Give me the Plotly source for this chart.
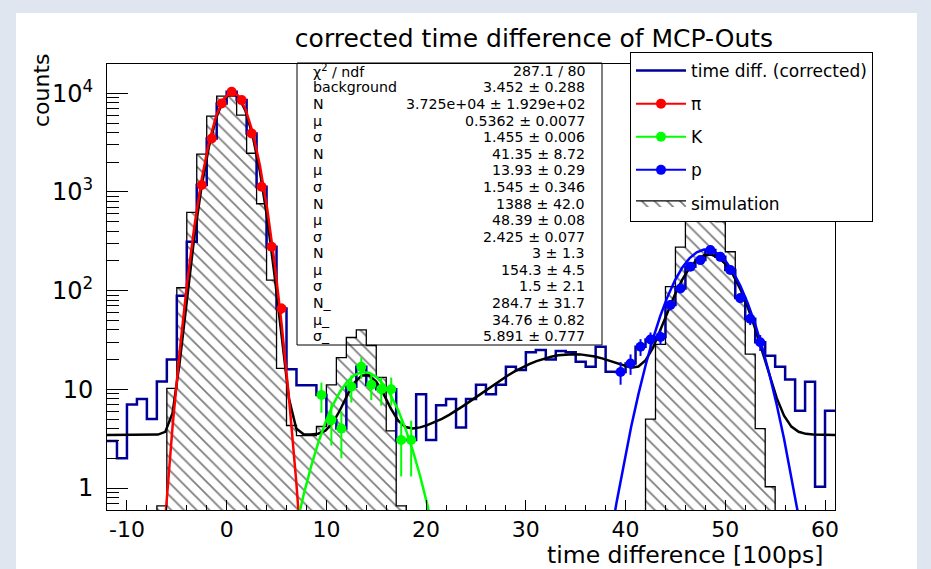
import numpy as np
import plotly.graph_objects as go

# ---------------- binning (axis structure) ----------------
x_min, x_max = -12, 61
bin_edges = np.arange(x_min, x_max + 1, 1.0)          # 74 edges -> 73 bins of width 1

# ---------------- data: measured histogram (time diff. corrected) ----------------
counts = [3.0, 2.0, 7.0, 8.0, 5.0, 12, 20, 89, 313, 1175, 3490, 7890,
          10350, 8530, 3925, 1130, 279, 66, 16, 11, 11, 8.75, 4.9, 4.0,
          10.6, 16.9, 11.1, 10.0, 10.0, 3.06, 3.06, 8.9, 3.06, 6.9, 8.0, 4.1,
          8.0, 11.1, 8.9, 11.1, 16.9, 15.7, 23.7, 25, 20.1, 24.5, 23.7, 19,
          16.9, 27, 15.1, 15, 18.3, 27, 32, 34, 71.5, 105, 175, 204,
          258, 220, 162, 84, 52, 30, 21.9, 16.9, 12.6, 6.07, 11.9, 1.03, 6.07]

# ---------------- data: simulation histogram ----------------
sim_counts = [0, 0, 0, 0, 0, 0.66, 10.2, 107, 621, 2420, 5870, 9370,
              9370, 6010, 2470, 760, 128, 16.3, 4.3, 3.4, 3.4, 4.2, 11.1, 21,
              33.5, 40, 27.8, 13.2, 3.8, 0.66, 0, 0, 0, 0, 0, 0,
              0, 0, 0, 0, 0, 0, 0, 0, 0, 0, 0, 0,
              0, 0, 0, 0, 0, 0, 5.0, 28.5, 110, 276, 520, 708,
              708, 500, 248, 87, 22.7, 4.0, 1.03, 0, 0, 0, 0, 0, 0]

# ---------------- data: fitted points ----------------
pi_x = [-2.5, -1.5, -0.5, 0.5, 1.5, 2.5, 3.5, 4.5, 5.5]
pi_y = [1175, 3490, 7890, 10350, 8530, 3925, 1130, 279, 66]
pi_err = [34, 59, 89, 102, 92, 63, 34, 17, 8.1]

k_x = [9.5, 10.5, 11.5, 12.5, 13.5, 14.5, 15.5, 16.5, 17.5, 18.5]
k_y = [8.75, 4.9, 4.0, 10.6, 16.9, 11.1, 10.0, 10.0, 3.06, 3.06]
k_err = [2.96, 2.21, 2.0, 3.26, 4.11, 3.33, 3.16, 3.16, 1.75, 1.75]

p_x = [39.5, 40.5, 41.5, 42.5, 43.5, 44.5, 45.5, 46.5, 47.5, 48.5, 49.5, 50.5, 51.5, 52.5, 53.5]
p_y = [15, 18.3, 27, 32, 34, 71.5, 105, 175, 204, 258, 220, 162, 84, 52, 30]
p_err = [3.87, 4.28, 5.2, 5.66, 5.83, 8.46, 10.2, 13.2, 14.3, 16.1, 14.8, 12.7, 9.17, 7.21, 5.48]

# ---------------- fit parameters ----------------
pi_fit = [10300, 0.54, 1.51]     # amplitude, mean, sigma
k_fit = [15.0, 13.8, 2.54]
p_fit = [262, 48.1, 2.62]
background = 3.452
tot_N = [37250, 41.35, 1388, 3, 284.7]
tot_mu = [0.5362, 13.93, 48.39, 154.3, 34.76]
tot_sigma = [1.455, 1.545, 2.425, 1.5, 5.891]

# ---------------- tick labels ----------------
x_tick_vals = [-10, 0, 10, 20, 30, 40, 50, 60]
x_tick_text = ["-10", "0", "10", "20", "30", "40", "50", "60"]
y_tick_vals = [1, 10, 100, 1000, 10000]
y_tick_text = ["1", "10", "10<sup>2</sup>", "10<sup>3</sup>", "10<sup>4</sup>"]

# ---------------- stats box text ----------------
stat_labels = ["χ<sup>2</sup> / ndf", "background", "N", "μ", "σ", "N", "μ", "σ",
               "N", "μ", "σ", "N", "μ", "σ", "N_", "μ_", "σ_"]
stat_values = ["287.1 / 80", "3.452 ± 0.288", "3.725e+04 ± 1.929e+02", "0.5362 ± 0.0077",
               "1.455 ± 0.006", "41.35 ± 8.72", "13.93 ± 0.29", "1.545 ± 0.346",
               "1388 ± 42.0", "48.39 ± 0.08", "2.425 ± 0.077", "3 ± 1.3", "154.3 ± 4.5",
               "1.5 ± 2.1", "284.7 ± 31.7", "34.76 ± 0.82", "5.891 ± 0.777"]

FLOOR = 1e-3
FONT = "DejaVu Sans"

def step_xy(values):
    v = [val if val > 0 else FLOOR for val in values]
    return list(bin_edges), v + [v[-1]]

fx = np.linspace(x_min, x_max, 101)

def gaus(x, a, m, s):
    return np.maximum(a * np.exp(-0.5 * ((x - m) / s) ** 2), 1e-2)

total = np.full_like(fx, background)
for N, m, s in zip(tot_N, tot_mu, tot_sigma):
    total = total + N / (np.sqrt(2 * np.pi) * s) * np.exp(-0.5 * ((fx - m) / s) ** 2)

fig = go.Figure()

# simulation (hatched)
sx, sy = step_xy(sim_counts)
fig.add_trace(go.Scatter(
    x=sx + [x_max, x_min], y=sy + [FLOOR, FLOOR], mode="lines", line_shape="hv",
    line=dict(color="black", width=1.3), fill="toself", fillcolor="rgba(255,255,255,0)",
    fillpattern=dict(shape="\\", fgcolor="black", bgcolor="rgba(255,255,255,0)",
                     fillmode="overlay", size=9, solidity=0.2),
    name="simulation", legendgroup="e", legendrank=5, hoverinfo="skip"))

# measured histogram
hx, hy = step_xy(counts)
fig.add_trace(go.Scatter(x=hx, y=hy, mode="lines", line_shape="hv",
                         line=dict(color="#000099", width=2.5),
                         name="time diff. (corrected)", legendgroup="a", legendrank=1))

# total fit
fig.add_trace(go.Scatter(x=fx, y=total, mode="lines", line=dict(color="black", width=2.5),
                         showlegend=False))

# species: points + fits
for name, xs, ys, es, fit, col, grp, rk in [
        ("π", pi_x, pi_y, pi_err, pi_fit, "#ff0000", "b", 2),
        ("K", k_x, k_y, k_err, k_fit, "#00ff00", "c", 3),
        ("p", p_x, p_y, p_err, p_fit, "#0000ff", "d", 4)]:
    fig.add_trace(go.Scatter(x=xs, y=ys, mode="markers",
                             marker=dict(color=col, size=10),
                             error_y=dict(type="data", array=es, color=col, thickness=2, width=0),
                             showlegend=False))
    fig.add_trace(go.Scatter(x=fx, y=gaus(fx, *fit), mode="lines",
                             line=dict(color=col, width=2.5), showlegend=False))
    fig.add_trace(go.Scatter(x=[None], y=[None], mode="lines+markers",
                             line=dict(color=col, width=2), marker=dict(color=col, size=10),
                             name=name, legendgroup=grp, legendrank=rk))

# ---------------- layout ----------------
L, R, T, B = 107, 96, 64, 59
W, H = 931, 569
pw, ph = W - L - R, H - T - B

def px2paper_x(px):
    return (px - L) / pw

def px2paper_y(py):
    return (H - B - py) / ph

shapes = [
    dict(type="rect", xref="paper", yref="paper", layer="below",
         x0=px2paper_x(16), x1=px2paper_x(917), y0=px2paper_y(569), y1=px2paper_y(13),
         fillcolor="white", line=dict(width=0)),
    dict(type="rect", xref="paper", yref="paper", layer="below",
         x0=px2paper_x(297), x1=px2paper_x(602), y0=px2paper_y(345), y1=px2paper_y(63),
         fillcolor="white", line=dict(color="black", width=1)),
]

STAT_SIZE = 14.2
annotations = []
for i, (lab, val) in enumerate(zip(stat_labels, stat_values)):
    yy = px2paper_y(70.9 + 16.58 * i)
    annotations.append(dict(text=lab, x=px2paper_x(312), y=yy, xref="paper", yref="paper",
                            xanchor="left", yanchor="middle", showarrow=False, borderpad=0,
                            font=dict(size=STAT_SIZE, family=FONT)))
    annotations.append(dict(text=val, x=px2paper_x(586), y=yy, xref="paper", yref="paper",
                            xanchor="right", yanchor="middle", showarrow=False, borderpad=0,
                            font=dict(size=STAT_SIZE, family=FONT)))

annotations.append(dict(text="counts", textangle=-90, x=px2paper_x(42), y=px2paper_y(90),
                        xref="paper", yref="paper", xanchor="center", yanchor="middle",
                        showarrow=False, font=dict(size=22, family=FONT)))
annotations.append(dict(text="time difference [100ps]", x=px2paper_x(824), y=px2paper_y(555),
                        xref="paper", yref="paper", xanchor="right", yanchor="middle",
                        showarrow=False, borderpad=0, font=dict(size=23.5, family=FONT)))

y_minor = [d * 10.0 ** e for e in range(-1, 5) for d in range(2, 10)]
y_minor = [v for v in y_minor if 0.6 <= v <= 19000]
x_minor = [v for v in range(-12, 61, 2) if v % 10 != 0]

fig.update_layout(
    width=W, height=H,
    margin=dict(l=L, r=R, t=T, b=B, autoexpand=False),
    paper_bgcolor="#dfe6f0", plot_bgcolor="white",
    font=dict(family=FONT, color="black"),
    title=dict(text="corrected time difference of MCP-Outs", x=534 / W, y=1 - 38 / H,
               xref="container", yref="container", xanchor="center", yanchor="middle",
               font=dict(size=25, family=FONT, color="black")),
    legend=dict(x=px2paper_x(630), y=px2paper_y(52), xanchor="left", yanchor="top",
                bgcolor="white", bordercolor="black", borderwidth=1,
                font=dict(size=17, family=FONT), traceorder="grouped",
                tracegroupgap=8, itemwidth=50),
    shapes=shapes, annotations=annotations,
)

fig.update_xaxes(range=[x_min, x_max], tickvals=x_tick_vals, ticktext=x_tick_text,
                 ticks="inside", ticklen=10, tickwidth=1, tickcolor="black",
                 showline=True, linecolor="black", linewidth=1, mirror=True,
                 showgrid=False, zeroline=False, tickfont=dict(size=22, family=FONT),
                 ticklabelstandoff=0,
                 minor=dict(tickvals=x_minor, ticks="inside", ticklen=5, tickcolor="black",
                            showgrid=False))
fig.update_yaxes(type="log", range=[-0.223, 4.297],
                 tickvals=y_tick_vals, ticktext=y_tick_text,
                 ticks="inside", ticklen=21, tickwidth=1, tickcolor="black",
                 showline=True, linecolor="black", linewidth=1, mirror=True,
                 showgrid=False, zeroline=False, tickfont=dict(size=24, family=FONT),
                 ticklabelstandoff=8,
                 minor=dict(tickvals=y_minor, ticks="inside", ticklen=12, tickcolor="black",
                            showgrid=False))

fig.write_html("out.html")
